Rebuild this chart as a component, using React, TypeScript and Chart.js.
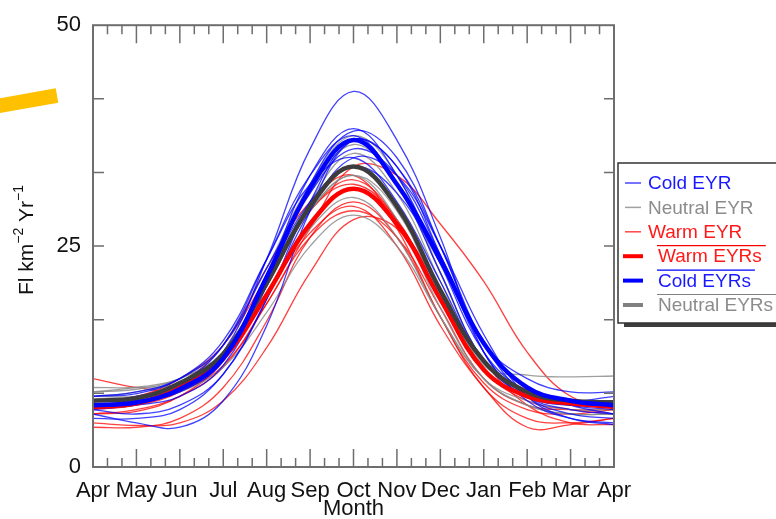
import React, { useEffect, useRef } from 'react';
import { Chart, registerables } from 'chart.js';
Chart.register(...registerables);

// Month axis (Apr .. Apr)
const months = ['Apr', 'May', 'Jun', 'Jul', 'Aug', 'Sep', 'Oct', 'Nov', 'Dec', 'Jan', 'Feb', 'Mar', 'Apr'];
const yTickLabels = [0, 25, 50];

// Cold EYR (thin blue)
const cold1 = [7.5, 7.8, 9, 13, 23.5, 36, 42.5, 37, 26, 13, 8, 6.5, 6];
const cold2 = [7, 7.5, 8.5, 12, 21.5, 33, 38.3, 33, 23, 13, 8.5, 7, 6.5];
const cold3 = [6.5, 7, 8, 11.5, 20.5, 32, 38, 35, 25, 14, 9, 7.5, 7];
const cold4 = [7.5, 8, 9.5, 13.8, 23.5, 33, 37.5, 32, 22, 12, 8, 7, 7.5];
const cold5 = [6, 5, 4.5, 7.5, 16, 29, 37, 34, 24, 13, 7.5, 5.5, 5];
const cold6 = [8, 8.3, 10, 14.3, 23.5, 32, 35, 30, 21, 12, 8.5, 7.5, 8];
const cold7 = [7, 7.2, 8.8, 12.8, 21.5, 30, 34, 31, 23, 14, 9, 7, 6];
const cold8 = [6.5, 6, 7, 10.5, 19, 30, 37, 34, 25, 14, 8, 6, 5.5];
const cold9 = [8, 8.5, 10, 13.8, 22.5, 31, 36, 33, 24, 14, 10, 8.5, 8.5];
const cold10 = [5.5, 5.5, 6.5, 10.5, 19, 29, 35, 33, 25, 15, 8, 5.5, 4.8];

// Neutral EYR (thin grey)
const neutral1 = [8.5, 9, 10, 13, 20.5, 30, 35.5, 31, 21, 11.5, 10.4, 10.2, 10.3];
const neutral2 = [9, 9, 9.5, 12.5, 20.5, 29, 33, 28, 18, 10, 7, 6, 6];
const neutral3 = [8, 8.5, 10, 13.8, 22.5, 32, 37.5, 33, 22, 12, 8, 7, 7];
const neutral4 = [7.5, 7.5, 8.5, 11.3, 17.5, 25, 28.5, 25, 17, 10, 7, 6, 6];
const neutral5 = [8, 8, 9, 12.2, 19.5, 27, 30.5, 26, 17, 10, 7.5, 6.5, 6.5];
const neutral6 = [7, 7.5, 9, 12.8, 21.5, 31, 36.5, 32, 22, 12, 8.5, 7.5, 7.5];
const neutral7 = [8.5, 8.8, 10, 13, 20.5, 29, 33, 29, 19, 11, 8, 7, 7];

// Warm EYR (thin red)
const warm1 = [10, 9, 8.8, 11.5, 18.5, 26, 29, 26, 18, 10, 7, 6.5, 6.5];
const warm2 = [5, 4.7, 5, 7.5, 13.5, 22, 28, 27, 20, 12, 7, 5, 4.8];
const warm3 = [4.5, 4.5, 5.5, 9, 16.5, 26, 30, 26, 17, 9, 5.5, 5, 5.5];
const warm4 = [6, 6.5, 8, 11.3, 18.5, 27, 34, 33, 27.5, 21, 13, 8, 7];
const warm5 = [7, 7.5, 9.5, 13.8, 22.5, 30, 33, 27, 17, 9.5, 6.5, 6, 6.5];
const warm6 = [6, 6.3, 8, 12, 20.5, 29, 32, 28, 19, 11, 7.5, 6.5, 6];
const warm7 = [6.5, 7, 8.5, 12, 19.5, 26.5, 29.5, 25, 16, 9, 4.5, 4.8, 5.5];
const warm8 = [7.5, 8, 10, 13.8, 21.5, 29, 32.5, 28, 19, 11, 8, 7.5, 7.5];

// Group means (thick)
const warmEYRs = [6.8, 7.2, 9, 12.3, 19.5, 27.5, 31.5, 27.5, 19, 11, 8, 7.2, 6.8];
const coldEYRs = [7, 7.3, 8.8, 12.3, 21.5, 31.5, 37, 32, 23.5, 14, 9, 7.5, 7];
const neutralEYRs = [7.5, 7.8, 9.5, 12.8, 20.8, 29.5, 34, 29.5, 20, 12, 8.5, 7.5, 7.3];

const coldSeries = [cold1, cold2, cold3, cold4, cold5, cold6, cold7, cold8, cold9, cold10];
const neutralSeries = [neutral1, neutral2, neutral3, neutral4, neutral5, neutral6, neutral7];
const warmSeries = [warm1, warm2, warm3, warm4, warm5, warm6, warm7, warm8];

const BLUE = 'rgba(0,0,255,0.75)';
const GREY = 'rgba(135,135,135,0.8)';
const RED = 'rgba(255,0,0,0.75)';
const FONT = "'Liberation Sans', Arial, Helvetica, sans-serif";

const legendItems = [
  { label: 'Cold EYR', color: 'rgb(70,70,255)', text: 'rgb(25,25,255)', width: 1.5, bar: false },
  { label: 'Neutral EYR', color: 'rgb(160,160,160)', text: 'rgb(140,140,140)', width: 1.5, bar: false },
  { label: 'Warm EYR', color: 'rgb(255,70,70)', text: 'rgb(255,25,25)', width: 1.5, bar: false },
  { label: 'Warm EYRs', color: 'rgb(255,0,0)', text: 'rgb(255,25,25)', width: 4, bar: true },
  { label: 'Cold EYRs', color: 'rgb(0,0,255)', text: 'rgb(25,25,255)', width: 4, bar: true },
  { label: 'Neutral EYRs', color: 'rgb(128,128,128)', text: 'rgb(140,140,140)', width: 4, bar: true },
];

const makeDs = (vals: number[], color: string, width: number) => ({
  data: vals.map((y, i) => ({ x: i, y })),
  borderColor: color,
  borderWidth: width,
  pointRadius: 0,
  tension: 0.4,
  fill: false,
});

const decorPlugin = {
  id: 'decor',
  afterDatasetsDraw(chart: any) {
    const ctx = chart.ctx;
    const { left, right, top, bottom } = chart.chartArea;
    const xs = chart.scales.x;
    const ys = chart.scales.y;
    ctx.save();
    ctx.strokeStyle = '#6e6e6e';
    ctx.lineWidth = 2;
    ctx.strokeRect(left, top, right - left, bottom - top);
    ctx.lineWidth = 1.5;
    ctx.beginPath();
    for (let m = 0; m <= 12; m++) {
      for (let k = 0; k < 3; k++) {
        if (m === 12 && k > 0) continue;
        const px = xs.getPixelForValue(m + k / 3);
        const len = k === 0 ? 18 : 9;
        ctx.moveTo(px, bottom);
        ctx.lineTo(px, bottom - len);
        ctx.moveTo(px, top);
        ctx.lineTo(px, top + len);
      }
    }
    for (let k = 1; k < 6; k++) {
      const py = ys.getPixelForValue((50 * k) / 6);
      ctx.moveTo(left, py);
      ctx.lineTo(left + 11, py);
      ctx.moveTo(right, py);
      ctx.lineTo(right - 10, py);
    }
    ctx.stroke();
    ctx.restore();
  },
  afterDraw(chart: any) {
    const ctx = chart.ctx;
    ctx.save();
    // legend box
    const bx = 618, by = 163, bw = 200, bh = 160;
    ctx.fillStyle = '#3c3c3c';
    ctx.fillRect(bx + 6, by + 4, bw, bh);
    ctx.fillStyle = '#ffffff';
    ctx.fillRect(bx, by, bw, bh);
    ctx.strokeStyle = '#333';
    ctx.lineWidth = 1.5;
    ctx.strokeRect(bx, by, bw, bh);
    ctx.font = `19px ${FONT}`;
    ctx.textBaseline = 'middle';
    legendItems.forEach((it, i) => {
      const cy = 183 + i * 24.4;
      ctx.strokeStyle = it.color;
      ctx.lineWidth = it.width;
      ctx.beginPath();
      if (it.bar) {
        ctx.moveTo(623, cy); ctx.lineTo(643, cy);
      } else {
        ctx.moveTo(625, cy); ctx.lineTo(641, cy);
      }
      ctx.stroke();
      ctx.fillStyle = it.text;
      const tx = it.bar ? 658 : 648;
      ctx.fillText(it.label, tx, cy + 1);
      if (it.bar) {
        const w = ctx.measureText(it.label).width;
        ctx.strokeStyle = it.color;
        ctx.lineWidth = 1.2;
        ctx.beginPath();
        ctx.moveTo(tx - 1, cy - 10.5);
        ctx.lineTo(tx + w + 4, cy - 10.5);
        ctx.stroke();
      }
    });
    // y-axis title with superscripts
    ctx.translate(33, 240);
    ctx.rotate(-Math.PI / 2);
    ctx.fillStyle = '#111';
    ctx.textBaseline = 'alphabetic';
    const parts = [
      { t: 'Fl km', s: 21, dy: 0 },
      { t: '\u22122', s: 14, dy: -10 },
      { t: ' Yr', s: 21, dy: 0 },
      { t: '\u22121', s: 14, dy: -10 },
    ];
    let total = 0;
    parts.forEach((p) => { ctx.font = `${p.s}px ${FONT}`; total += ctx.measureText(p.t).width; });
    let x0 = -total / 2;
    parts.forEach((p) => {
      ctx.font = `${p.s}px ${FONT}`;
      ctx.fillText(p.t, x0, p.dy);
      x0 += ctx.measureText(p.t).width;
    });
    ctx.restore();
    // orange annotation stroke
    ctx.save();
    ctx.strokeStyle = 'rgb(255,192,0)';
    ctx.lineWidth = 14.5;
    ctx.lineCap = 'butt';
    ctx.beginPath();
    ctx.moveTo(-2, 106);
    ctx.lineTo(57, 95.5);
    ctx.stroke();
    ctx.restore();
  },
};

export default function App() {
  const ref = useRef<HTMLCanvasElement>(null);
  useEffect(() => {
    document.body.style.margin = '0';
    const datasets: any[] = [
      makeDs(coldEYRs, 'rgb(0,0,255)', 4.5),
      makeDs(neutralEYRs, 'rgb(60,60,60)', 4.5),
      makeDs(warmEYRs, 'rgb(255,0,0)', 4.5),
      ...coldSeries.map((s) => makeDs(s, BLUE, 1.3)),
      ...neutralSeries.map((s) => makeDs(s, GREY, 1.3)),
      ...warmSeries.map((s) => makeDs(s, RED, 1.3)),
    ];
    const chart = new Chart(ref.current as HTMLCanvasElement, {
      type: 'line',
      data: { datasets },
      options: {
        animation: false,
        responsive: false,
        layout: { padding: { left: 0, top: 19, right: 162, bottom: 0 } },
        plugins: { legend: { display: false }, tooltip: { enabled: false } },
        scales: {
          x: {
            type: 'linear',
            min: 0,
            max: 12,
            grid: { display: false, drawTicks: false },
            border: { display: false },
            afterBuildTicks: (scale: any) => {
              scale.ticks = months.map((_, i) => ({ value: i }));
            },
            afterFit: (scale: any) => { scale.height = 52; },
            ticks: {
              autoSkip: false,
              maxRotation: 0,
              padding: 11,
              color: '#111',
              font: { family: FONT, size: 22 },
              callback: (v: any) => months[Math.round(Number(v))],
            },
            title: {
              display: true,
              text: 'Month',
              color: '#111',
              font: { family: FONT, size: 22, lineHeight: 0.9 },
              padding: { top: 0, bottom: 0 },
            },
          },
          y: {
            type: 'linear',
            min: 0,
            max: 50,
            grid: { display: false, drawTicks: false },
            border: { display: false },
            afterBuildTicks: (scale: any) => {
              scale.ticks = yTickLabels.map((v) => ({ value: v }));
            },
            afterFit: (scale: any) => { scale.width = 93; },
            ticks: {
              padding: 12,
              color: '#111',
              font: { family: FONT, size: 22 },
              callback: (v: any) => String(v),
            },
          },
        },
      },
      plugins: [decorPlugin],
    });
    return () => chart.destroy();
  }, []);
  return (
    <div style={{ position: 'absolute', left: 0, top: 0, width: 776, height: 519, background: '#fff' }}>
      <canvas ref={ref} width={776} height={519} style={{ display: 'block' }} />
    </div>
  );
}
